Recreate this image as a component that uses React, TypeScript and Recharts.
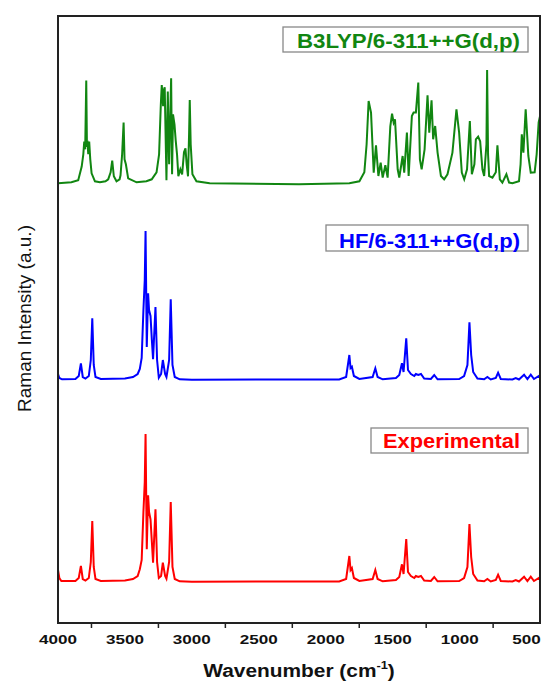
import React from "react";
import { LineChart, Line, XAxis, YAxis } from "recharts";

// ---- Data ----
// Wavenumber (cm-1), relative Raman intensity (a.u.)
const b3lypSpectrum: [number, number][] = [
  [4000, 1], [3900, 2], [3849, 4], [3823, 17.7], [3811, 30], [3804, 42.7], [3797, 35], [3789, 103.7],
  [3784, 40], [3779, 41], [3774, 30], [3767, 42.7], [3759, 25], [3749, 11], [3724, 3], [3687, 2],
  [3645, 3], [3625, 5], [3607, 12], [3595, 23.7], [3583, 8], [3563, 3], [3540, 5], [3533, 9],
  [3521, 30], [3510, 61.7], [3503, 25], [3493, 20], [3476, 6], [3413, 2], [3340, 3], [3300, 5], [3264, 12],
  [3245, 30], [3232, 80], [3225, 99.3], [3215, 78], [3208, 95], [3203, 97], [3195, 40], [3190, 4],
  [3180, 92.7], [3170, 20], [3155, 106], [3148, 10], [3141, 70], [3130, 60], [3121, 44], [3111, 30],
  [3101, 8], [3086, 15], [3073, 10], [3059, 32], [3048, 36], [3039, 20], [3029, 8], [3021, 50],
  [3016, 84.3], [3009, 40], [2996, 10], [2966, 3], [2867, 1], [2200, 0], [1824, 1], [1749, 3],
  [1712, 12], [1695, 40], [1680, 83.3], [1662, 71.7], [1642, 11.7], [1625, 39], [1607, 8.3], [1590, 21.7],
  [1575, 6.7], [1555, 19], [1538, 6.7], [1518, 58], [1505, 70.7], [1493, 61.7], [1483, 65], [1463, 15],
  [1451, 6.7], [1426, 28.3], [1414, 11.7], [1394, 51.7], [1381, 8.3], [1357, 68.3], [1344, 71.7], [1327, 71.7],
  [1309, 101.7], [1297, 25], [1284, 15], [1262, 35], [1240, 89], [1227, 51.7], [1210, 84], [1198, 45],
  [1183, 58.3], [1165, 31.7], [1140, 8.3], [1116, 5], [1091, 10], [1054, 31.7], [1024, 75], [1004, 51.7],
  [984, 11.7], [966, 5], [945, 15], [924, 63.3], [909, 10], [890, 20], [879, 45], [862, 47.7],
  [847, 43], [830, 15], [817, 8.3], [800, 40], [795, 114.3], [788, 30], [780, 8.3], [755, 6.7],
  [730, 12], [718, 39], [700, 5], [681, 1.7], [651, 10], [631, 1.7], [606, 1], [557, 3],
  [545, 20], [536, 50], [524, 31.7], [507, 75], [487, 28.3], [469, 11.7], [440, 12], [425, 30],
  [410, 62], [400, 68],
];

const hfSpectrum: [number, number][] = [
  [4000, 6], [3990, 2], [3970, 0.7], [3870, 1], [3845, 4], [3829, 16.7], [3815, 3], [3795, 1.5],
  [3770, 4], [3755, 20], [3744, 61.7], [3733, 15], [3720, 3], [3680, 1], [3500, 1.5], [3440, 3],
  [3405, 6], [3389, 11], [3375, 22], [3362, 70], [3352, 100], [3346, 149], [3337, 33], [3327, 86.7],
  [3320, 70], [3309, 64], [3299, 40], [3290, 20.7], [3272, 73], [3260, 20], [3247, 2.3], [3230, 6],
  [3217, 20], [3200, 6], [3190, 3], [3170, 20], [3158, 80.7], [3145, 15], [3128, 3], [3091, 0.7],
  [3000, 0.3], [1900, 0.5], [1848, 3], [1824, 25], [1815, 12], [1805, 13.3], [1790, 4], [1749, 1],
  [1650, 3], [1630, 11.7], [1613, 3], [1575, 0.7], [1476, 2], [1451, 5], [1431, 16.7], [1419, 8],
  [1399, 41.7], [1386, 10], [1364, 6], [1339, 4], [1327, 6], [1309, 5], [1289, 6], [1265, 1.5],
  [1215, 1], [1190, 5], [1165, 0.7], [1004, 1], [967, 4], [942, 15], [927, 57.7], [914, 25],
  [899, 8], [867, 1.5], [817, 0.7], [793, 3], [768, 0.5], [730, 2], [713, 7.3], [693, 1],
  [606, 0.5], [581, 2], [557, 0.5], [519, 5.3], [494, 1], [469, 5.3], [445, 1], [408, 4],
  [400, 2],
];

const experimentalSpectrum: [number, number][] = [
  [4000, 12], [3990, 4], [3975, 1], [3870, 1], [3845, 4], [3829, 16], [3815, 3], [3795, 1.5],
  [3770, 4], [3755, 20], [3744, 61], [3733, 15], [3720, 3], [3680, 1], [3500, 1.5], [3440, 3],
  [3405, 6], [3389, 12.7], [3375, 22], [3362, 70], [3352, 100], [3346, 148], [3337, 32.7], [3327, 86.7],
  [3320, 70], [3309, 62.7], [3299, 40], [3290, 19.3], [3272, 72.7], [3260, 20], [3247, 4], [3230, 6],
  [3217, 19.3], [3200, 6], [3190, 3.3], [3170, 20], [3158, 80], [3145, 15], [3128, 3], [3091, 0.7],
  [3000, 0.3], [1900, 0.5], [1848, 3], [1824, 26], [1815, 12], [1805, 14], [1790, 4], [1749, 1],
  [1650, 3], [1630, 12], [1613, 3], [1575, 0.7], [1476, 2], [1451, 5], [1431, 17.7], [1419, 8],
  [1399, 43], [1386, 10], [1364, 6], [1339, 4], [1327, 6], [1309, 5], [1289, 6], [1265, 1.5],
  [1215, 1], [1190, 5], [1165, 0.7], [1004, 1], [967, 4], [942, 15], [927, 58], [914, 25],
  [899, 8], [867, 1.5], [817, 0.7], [793, 3], [768, 0.5], [730, 2], [713, 7.3], [693, 1],
  [606, 0.5], [581, 2], [557, 0.5], [519, 5.3], [494, 1], [469, 5.3], [445, 1], [408, 4],
  [400, 2],
];

const xMajorTicks = [4000, 3500, 3000, 2500, 2000, 1500, 1000, 500];
const xMinorTicks = [3750, 3250, 2750, 2250, 1750, 1250, 750];

const seriesNames = ["B3LYP/6-311++G(d,p)", "HF/6-311++G(d,p)", "Experimental"];
const xTitle = "Wavenumber (cm";
const xTitleSup = "-1";
const yTitle = "Raman Intensity (a.u.)";

// ---- presentation ----
const W = 541;
const H = 682;
const PLOT = { left: 58, top: 16, right: 540, bottom: 623 };
const Y_MAX = PLOT.bottom - PLOT.top; // stacked spectra offsets in intensity units
const OFFSETS = { b3lyp: 438.7, hf: 243, exp: 41 };
const COLORS = { b3lyp: "#118611", hf: "#0000ff", exp: "#ff0000" };
const FONT = "'Liberation Sans', Arial, Helvetica, sans-serif";

const build = (s: [number, number][], off: number) => s.map(([w, v]) => ({ w, y: v + off }));
const b3lypData = build(b3lypSpectrum, OFFSETS.b3lyp);
const hfData = build(hfSpectrum, OFFSETS.hf);
const expData = build(experimentalSpectrum, OFFSETS.exp);

const allTicks = [...xMajorTicks, ...xMinorTicks].sort((a, b) => b - a);

const XTick = (props: any) => {
  const { x, y, payload } = props;
  const v = payload.value as number;
  if (xMinorTicks.includes(v)) {
    return <line x1={x} x2={x} y1={y} y2={y + 5} stroke="#222" strokeWidth={1.5} />;
  }
  const label = String(v);
  return (
    <text
      x={x}
      y={y + 20.5}
      textAnchor="middle"
      fontSize={13}
      fontWeight="bold"
      fontFamily={FONT}
      fill="#111"
      textLength={label.length * 9.5}
      lengthAdjust="spacingAndGlyphs"
    >
      {label}
    </text>
  );
};

const LabelBox = ({ x1, x2, y1, y2, text, color, tx, tw, base }: any) => (
  <g>
    <rect x={x1} y={y1} width={x2 - x1} height={y2 - y1} fill="#fff" stroke="#888" strokeWidth={1.3} />
    <text
      x={tx}
      y={base}
      fontSize={20}
      fontWeight="bold"
      fontFamily={FONT}
      fill={color}
      textLength={tw}
      lengthAdjust="spacingAndGlyphs"
    >
      {text}
    </text>
  </g>
);

export default function App() {
  return (
    <div style={{ position: "absolute", left: 0, top: 0, width: W, height: H, background: "#fff" }}>
      <LineChart
        width={W}
        height={H}
        margin={{ top: PLOT.top, right: W - PLOT.right, bottom: H - PLOT.bottom - 30, left: PLOT.left }}
      >
        <XAxis
          type="number"
          dataKey="w"
          domain={[400, 4000]}
          reversed
          allowDataOverflow
          ticks={allTicks}
          interval={0}
          tick={<XTick />}
          tickLine={false}
          tickSize={0}
          tickMargin={0}
          axisLine={false}
          height={30}
        />
        <YAxis type="number" domain={[0, Y_MAX]} hide allowDataOverflow />
        <Line data={b3lypData} dataKey="y" type="linear" stroke={COLORS.b3lyp} strokeWidth={2} dot={false} isAnimationActive={false} />
        <Line data={hfData} dataKey="y" type="linear" stroke={COLORS.hf} strokeWidth={2} dot={false} isAnimationActive={false} />
        <Line data={expData} dataKey="y" type="linear" stroke={COLORS.exp} strokeWidth={2} dot={false} isAnimationActive={false} />
      </LineChart>
      <svg
        width={W}
        height={H}
        style={{ position: "absolute", left: 0, top: 0, pointerEvents: "none" }}
      >
        <rect
          x={PLOT.left}
          y={PLOT.top}
          width={PLOT.right - PLOT.left}
          height={PLOT.bottom - PLOT.top}
          fill="none"
          stroke="#222"
          strokeWidth={2}
        />
        <LabelBox x1={283} x2={528} y1={27} y2={52} text={seriesNames[0]} color={COLORS.b3lyp} tx={297} tw={223} base={48} />
        <LabelBox x1={326} x2={528} y1={225} y2={251} text={seriesNames[1]} color={COLORS.hf} tx={339} tw={181} base={248} />
        <LabelBox x1={371} x2={528} y1={428} y2={453} text={seriesNames[2]} color={COLORS.exp} tx={383} tw={137} base={448} />
        <g transform="translate(299 677) scale(1.16 1)">
          <text textAnchor="middle" fontSize={18} fontWeight="bold" fontFamily={FONT} fill="#111">
            {xTitle}
            <tspan fontSize={11} dy={-8}>{xTitleSup}</tspan>
            <tspan dy={8}>)</tspan>
          </text>
        </g>
        <text
          transform="translate(31 318.5) rotate(-90)"
          textAnchor="middle"
          fontSize={19}
          fontFamily={FONT}
          fill="#111"
        >
          {yTitle}
        </text>
      </svg>
    </div>
  );
}
